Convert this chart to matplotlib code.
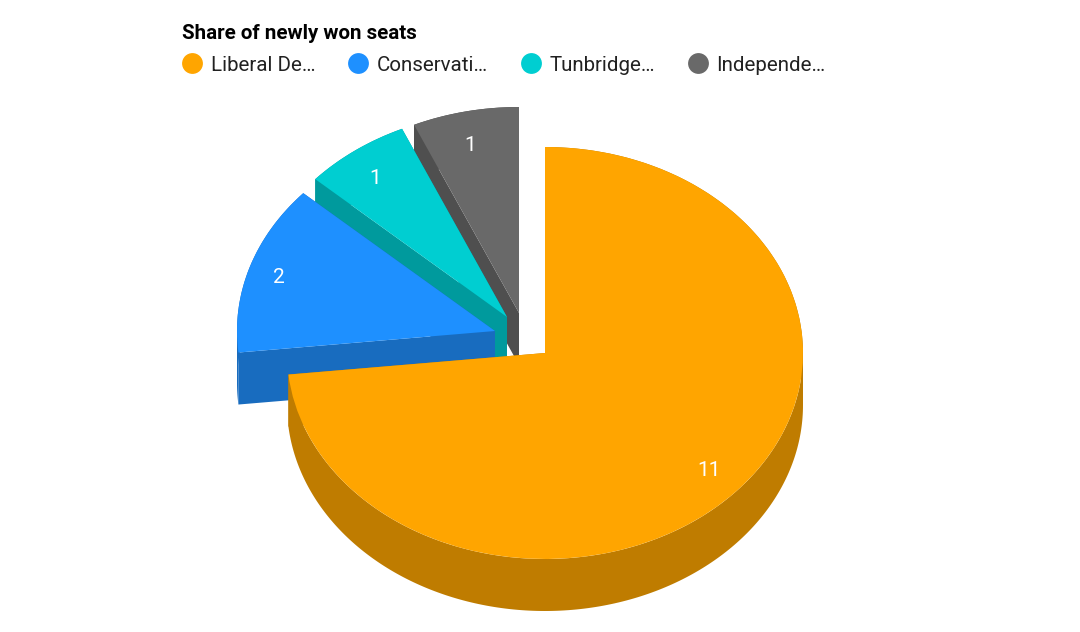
import numpy as np
import matplotlib
matplotlib.use("Agg")
import matplotlib.pyplot as plt
from matplotlib.lines import Line2D

plt.rcParams['font.family'] = ['Roboto', 'DejaVu Sans']

title = "Share of newly won seats"
labels = ["Liberal De…", "Conservati…", "Tunbridge…", "Independe…"]
seats = [11, 2, 1, 1]
colors = ["#FFA500", "#1E90FF", "#00CED1", "#696969"]
side_colors = ["#BF7C00", "#186CBF", "#009A9D", "#4F4F4F"]

# layout, in pixels
W, H = 1080, 632
CX, CY, RX, RY = 545, 353, 258, 206
DEPTH = 52
shifts = [(0, 0), (-50, -22), (-38, -36), (-26, -40)]
label_nudges = [(1, 0), (-8, 1), (-3, 3), (-3, 4)]

fig = plt.figure(figsize=(W / 100, H / 100), dpi=100, facecolor="white")
ax = fig.add_axes([0, 0, 1, 1])

wedges, _ = ax.pie(seats, colors=colors, startangle=90, counterclock=False,
                   radius=1, wedgeprops=dict(linewidth=0))

ax.set_aspect('auto')
ax.set_xlim(-CX / RX, (W - CX) / RX)
ax.set_ylim((CY - H) / RY, CY / RY)
ax.axis('off')

edges = np.cumsum([0] + seats) / sum(seats) * 2 * np.pi
depth = DEPTH / RY
n = len(seats)
extremes = [np.pi / 2, 3 * np.pi / 2]


def extrude(xs, ys, color, z):
    ax.fill(np.r_[xs, xs[::-1]], np.r_[ys, ys[::-1] - depth],
            color=color, linewidth=0, zorder=z)


for i in range(n):
    a0, a1 = edges[i], edges[i + 1]
    dx, dy = shifts[i][0] / RX, -shifts[i][1] / RY
    base = (n - i) * 2
    # outer rim, split at the left/right extremes so that each part is a simple polygon
    stops = [a0] + [e for e in extremes if a0 < e < a1] + [a1]
    for s0, s1 in zip(stops[:-1], stops[1:]):
        t = np.linspace(s0, s1, 200)
        extrude(dx + np.sin(t), dy + np.cos(t), side_colors[i], base)
    # both cut faces
    for a in (a0, a1):
        extrude(np.array([dx, dx + np.sin(a)]), np.array([dy, dy + np.cos(a)]),
                side_colors[i], base)
    wedges[i].set_center((dx, dy))
    wedges[i].set_zorder(base + 1)
    mid = (a0 + a1) / 2
    nx, ny = label_nudges[i]
    ax.text(dx + 0.85 * np.sin(mid) + nx / RX, dy + 0.85 * np.cos(mid) - ny / RY,
            str(seats[i]), color="white", fontsize=15, ha="center", va="center",
            zorder=50)

fig.text(182 / W, 1 - 33.5 / H, title, fontsize=14.8, fontweight="bold",
         color="black", ha="left", va="center")

handles = [Line2D([], [], linestyle="none", marker="o", markersize=15,
                  markerfacecolor=c, markeredgewidth=0) for c in colors]
fs = 14.8
fpx = fs / 0.72
leg = fig.legend(handles, labels, ncol=4, frameon=False, loc="center left",
                 bbox_to_anchor=(181.5 / W, 1 - 65 / H), fontsize=fs,
                 labelcolor="#212121", borderpad=0, borderaxespad=0,
                 handlelength=21 / fpx, handletextpad=8.5 / fpx,
                 columnspacing=32 / fpx, handleheight=1)

fig.savefig("out.png", dpi=100, facecolor="white")
